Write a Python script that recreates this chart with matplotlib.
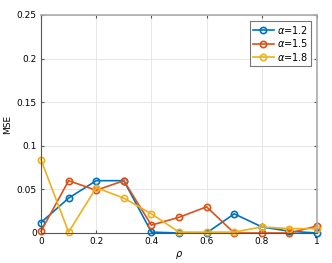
import matplotlib
matplotlib.use('Agg')
import matplotlib.pyplot as plt

rho = [0, 0.1, 0.2, 0.3, 0.4, 0.5, 0.6, 0.7, 0.8, 0.9, 1.0]
mse_12 = [0.012, 0.040, 0.060, 0.060, 0.001, 0.0, 0.0, 0.022, 0.007, 0.002, 0.0]
mse_15 = [0.002, 0.060, 0.049, 0.060, 0.009, 0.018, 0.030, 0.0, 0.0, 0.0, 0.008]
mse_18 = [0.084, 0.001, 0.052, 0.040, 0.022, 0.001, 0.001, 0.001, 0.007, 0.005, 0.005]
labels = [r'$\alpha$=1.2', r'$\alpha$=1.5', r'$\alpha$=1.8']
colors = ['#0072BD', '#D95319', '#EDB120']

fig = plt.figure(figsize=(3.32, 2.63), dpi=100)
ax = fig.add_axes([41/332, 30/263, 276/332, 218/263])

for ys, lab, c in zip([mse_12, mse_15, mse_18], labels, colors):
    ax.plot(rho, ys, '-o', color=c, label=lab, lw=1.2, ms=4.5,
            mfc='none', mew=1.2, clip_on=False)

ax.set_xlim(0, 1)
ax.set_ylim(0, 0.25)
ax.set_xticks([0, 0.2, 0.4, 0.6, 0.8, 1])
ax.set_xticklabels(['0', '0.2', '0.4', '0.6', '0.8', '1'])
ax.set_yticks([0, 0.05, 0.1, 0.15, 0.2, 0.25])
ax.set_yticklabels(['0', '0.05', '0.1', '0.15', '0.2', '0.25'])
ax.grid(True, color='#e3e3e3', lw=0.6)
ax.set_axisbelow(True)
ax.tick_params(direction='in', length=2.5, labelsize=6.5, color='#555555', pad=3,
               top=True, right=True)
for s in ['left', 'bottom']:
    ax.spines[s].set_color('#555555')
for s in ['top', 'right']:
    ax.spines[s].set_color('#aaaaaa')
    ax.spines[s].set_linewidth(1.2)
ax.set_xlabel(r'$\rho$', fontsize=7, labelpad=2)
ax.set_ylabel('MSE', fontsize=6.5, labelpad=3)

leg = ax.legend(loc='upper right', fontsize=7, handlelength=2.2, borderpad=0.3,
                labelspacing=0.15, handletextpad=0.3, fancybox=False,
                framealpha=1, borderaxespad=0.6)
leg.get_frame().set_edgecolor('#777777')
leg.get_frame().set_linewidth(0.8)

fig.savefig('out.png', dpi=100)
